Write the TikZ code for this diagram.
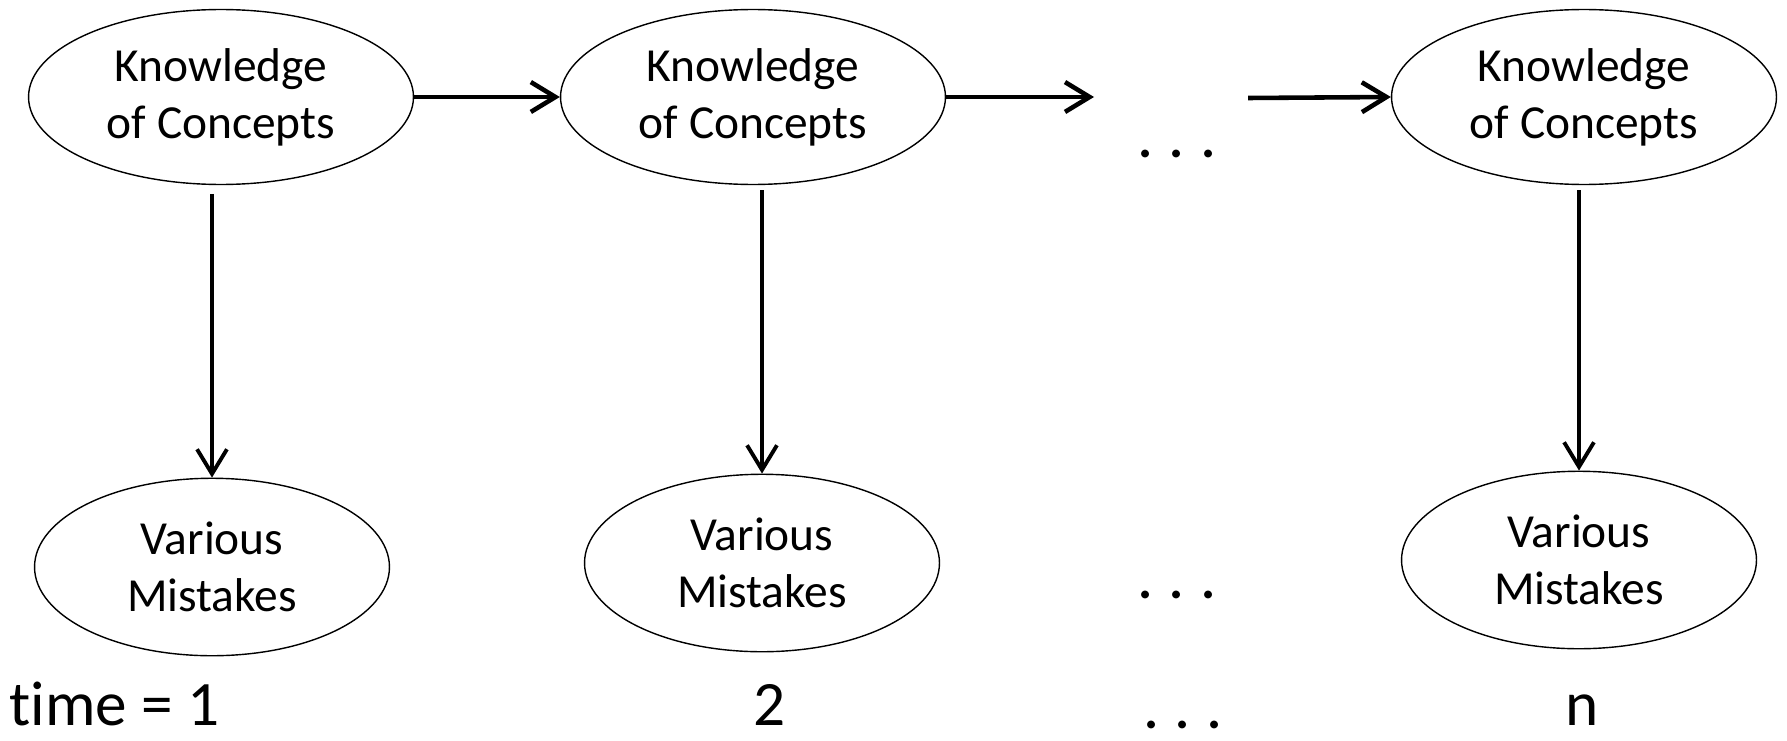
\documentclass[tikz,border=0pt]{standalone}
\usepackage{fontspec}
\setmainfont{Carlito}[Ligatures=NoCommon]
\usetikzlibrary{shapes.geometric,arrows.meta}
\tikzset{
  know/.style={ellipse,draw,line width=0.8pt,inner sep=0pt,minimum width=7.7cm,minimum height=3.5cm,align=center,font=\fontsize{27}{32.5}\selectfont},
  mist/.style={ellipse,draw,line width=0.8pt,inner sep=0pt,minimum width=7.1cm,minimum height=3.55cm,align=center,font=\fontsize{27}{32.5}\selectfont},
  arr/.style={line width=2.6pt,-{Straight Barb[length=14pt,width=17pt,line width=2.6pt]}},
  darr/.style={line width=2.2pt,-{Straight Barb[length=14pt,width=17pt,line width=2.2pt]}},
  lab/.style={inner sep=0pt,text depth=0pt,anchor=base,font=\fontsize{36}{40}\selectfont},
  gap/.style={inner sep=0pt,text depth=0pt,anchor=base,font=\fontsize{30}{34}\bfseries}
}
\newcommand{\gapdots}{.\hspace{0.33em}.\hspace{0.33em}.}
\begin{document}
\begin{tikzpicture}[x=0.02cm,y=-0.02cm]
  \useasboundingbox (0,0) rectangle (1787,740);
  \node[know] (k1) at (221,97) {Knowledge\\of Concepts};
  \node[know] (k2) at (753,97) {Knowledge\\of Concepts};
  \node[know] (kn) at (1584,97) {Knowledge\\of Concepts};
  \node[mist] (m1) at (212,567) {Various\\Mistakes};
  \node[mist] (m2) at (762,563) {Various\\Mistakes};
  \node[mist] (mn) at (1579,560) {Various\\Mistakes};
  \node[gap] (dotsk) at (1177,157) {\gapdots};
  \node[gap] (dotsm) at (1177,598) {\gapdots};
  \coordinate (gapa) at (1094,97);
  \coordinate (gapb) at (1248,98);
  \draw[arr] (k1.east) -- (k2.west);
  \draw[arr] (k2.east) -- (gapa);
  \draw[arr] (gapb) -- (kn.west);
  \draw[darr,shorten <=5pt] (m1.north |- k1.south) -- (m1.north);
  \draw[darr,shorten <=3pt] (m2.north |- k2.south) -- (m2.north);
  \draw[darr,shorten <=3pt] (mn.north |- kn.south) -- (mn.north);
  \node[lab,anchor=base west] (t1) at (9,725) {time = 1};
  \node[lab] (t2) at (770,725) {2};
  \node[gap] (tdots) at (1183,728) {\gapdots};
  \node[lab] (tn) at (1582,725) {n};
\end{tikzpicture}
\end{document}
